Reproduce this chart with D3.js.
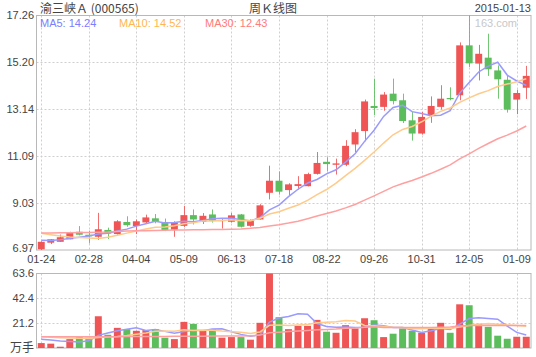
<!DOCTYPE html>
<html><head><meta charset="utf-8">
<script src="https://cdn.jsdelivr.net/npm/d3@7/dist/d3.min.js"></script>
<style>body{margin:0;background:#fff}svg{display:block}</style>
</head><body>
<svg id="c" width="536" height="357"></svg>
<script>
const dates = ["2014-01-24","2014-01-31","2014-02-07","2014-02-14","2014-02-21","2014-02-28","2014-03-07","2014-03-14","2014-03-21","2014-03-28",
"2014-04-04","2014-04-11","2014-04-18","2014-04-25","2014-05-02","2014-05-09","2014-05-16","2014-05-23","2014-05-30","2014-06-06",
"2014-06-13","2014-06-20","2014-06-27","2014-07-04","2014-07-11","2014-07-18","2014-07-25","2014-08-01","2014-08-08","2014-08-15",
"2014-08-22","2014-08-29","2014-09-05","2014-09-12","2014-09-19","2014-09-26","2014-10-03","2014-10-10","2014-10-17","2014-10-24",
"2014-10-31","2014-11-07","2014-11-14","2014-11-21","2014-11-28","2014-12-05","2014-12-12","2014-12-19","2014-12-26","2015-01-02",
"2015-01-09","2015-01-13"];
const open  = [7.00,7.29,7.33,7.44,7.77,7.64,7.55,7.85,7.67,8.20, 8.02,8.18,8.36,8.20,7.86,8.03,8.50,8.20,8.53,8.27, 8.21,8.53,8.03,8.31,9.48,10.01,9.60,9.78,9.77,10.31, 10.84,10.71,10.71,11.60,12.19,13.29,13.25,13.83,13.54,12.66, 12.08,12.88,13.25,13.64,13.76,15.95,15.15,15.41,14.85,14.44, 13.57,14.09];
const high  = [7.35,7.45,7.65,7.77,8.02,7.82,8.60,7.95,8.28,8.45, 8.31,8.52,8.55,8.35,8.23,8.90,8.75,8.59,8.75,8.33, 8.59,8.55,8.31,8.98,10.67,10.42,9.90,10.21,10.36,11.27, 11.04,10.98,11.79,12.27,13.57,14.49,13.90,14.49,13.83,13.03, 13.03,13.71,14.20,14.11,16.08,17.26,15.97,16.46,15.07,14.63, 14.00,15.05];
const low   = [6.97,7.23,7.33,7.44,7.61,7.26,7.41,7.45,7.64,7.99, 7.67,8.12,8.14,7.80,7.55,7.98,8.09,8.11,8.17,7.91, 8.17,7.96,7.99,8.31,9.19,9.40,9.36,9.62,9.76,10.28, 10.42,10.28,10.65,11.27,11.74,12.89,13.08,13.36,12.54,11.77, 12.03,12.55,13.14,13.54,13.54,15.00,14.41,14.61,13.61,13.00, 12.93,13.60];
const close = [7.33,7.44,7.53,7.73,7.64,7.57,7.88,7.69,8.23,8.06, 8.23,8.40,8.21,7.85,8.18,8.50,8.31,8.47,8.25,8.29, 8.49,7.99,8.24,8.93,10.01,9.53,9.85,9.86,10.30,10.79, 10.74,10.77,11.54,12.14,13.49,13.20,13.79,13.51,12.63,12.08, 12.81,13.29,13.61,13.61,15.95,15.16,15.58,14.90,14.46,13.13, 13.86,14.61];
const volume = [4.2,3.7,1.1,7.6,9.3,8.8,27.1,11.3,17.2,16.1, 14.7,15.3,16.1,8.8,7.6,22.3,20.6,14.7,16.1,8.8, 9.3,9.3,7.1,21.5,63.6,26.3,16.1,18.9,18.9,24.0, 13.9,13.0,19.5,16.7,25.4,23.7,9.3,12.2,16.7,14.7, 13.0,17.2,21.5,13.0,37.3,36.5,20.6,18.1,10.5,7.9, 9.6,9.6];
// moving-average values before enough weeks are visible
const ma5Early  = [7.40,7.39,7.42,7.48];
const ma10Early = [7.70,7.64,7.58,7.54,7.52,7.50,7.48,7.53,7.62];
const ma30Early = [7.72,7.72,7.73,7.73,7.74,7.74,7.75,7.76,7.78,7.80,7.81,7.82,7.83,7.84,7.85,7.85,7.86,7.86,7.87,7.87,7.88,7.89,7.92,7.96,8.02,8.08,8.15,8.23,8.34];
const vma5Early  = [7.5,6.8,6.0,5.5];
const vma10Early = [9.5,9.2,8.8,8.5,8.3,8.2,9.0,9.3,9.8];
const vma30Early = [9.5,9.5,9.5,9.6,9.6,9.6,9.7,9.7,9.7,9.8,9.8,9.8,9.9,9.9,10.0,10.0,10.1,10.1,10.2,10.2,10.3,10.3,10.4,11.0,13.0,13.5,14.0,14.5,15.0];
const priceTicks = [6.97,9.03,11.09,13.14,15.20,17.26];
const volTicks = [21.2,42.4,63.6];
const xTickDates = ["2014-01-24","2014-02-28","2014-04-04","2014-05-09","2014-06-13","2014-07-18","2014-08-22","2014-09-26","2014-10-31","2014-12-05","2015-01-09"];
const maNames = ["MA5","MA10","MA30"];
const maLegendValues = ["14.24","14.52","12.43"];
const stockName = "渝三峡Ａ (000565)";
const chartTitle = "周Ｋ线图";
const lastDate = "2015-01-13";
const volUnit = "万手";

const L=36.5, R=531, T=15.5, B=250, VT=273.5, VB=348;
const svg = d3.select("#c");
const x = d3.scaleBand().domain(dates).range([L, R]).paddingInner(0.27).paddingOuter(0.135);
const cx = d => x(d) + x.bandwidth()/2;
const y = d3.scaleLinear().domain([6.97,17.26]).range([B, T]);
const yv = d3.scaleLinear().domain([0,63.6]).range([VB, VT]);

function ma(arr, n, early){ return arr.map((_,i)=> i < n-1 ? early[i] : d3.mean(arr.slice(i-n+1,i+1))); }
const maColors = ["#9a9aff","#ffca8a","#ffa0a0"];
const maText = ["#7d7dff","#ffb650","#ff7a7a"];
const up = "#ef5555", dn = "#5bbd5b";
const font = "'Liberation Sans', Arial, sans-serif";
const cjk = "'Noto Sans CJK SC', sans-serif";

// grids
const g = svg.append("g");
function hgrid(vals, sc){
  g.selectAll(null).data(vals).enter().append("line")
   .attr("x1",L).attr("x2",R).attr("y1",d=>Math.round(sc(d))+0.5).attr("y2",d=>Math.round(sc(d))+0.5)
   .attr("stroke","#cfcfcf").attr("stroke-dasharray","2,2");
}
hgrid(priceTicks.slice(1,-1), y);
hgrid(volTicks.slice(0,-1), yv);
[[T,B],[VT,VB]].forEach(([t,b])=>{
  g.selectAll(null).data(xTickDates).enter().append("line")
   .attr("x1",d=>Math.round(cx(d))+0.5).attr("x2",d=>Math.round(cx(d))+0.5).attr("y1",t).attr("y2",b)
   .attr("stroke","#cfcfcf").attr("stroke-dasharray","2,2");
});

// borders
svg.append("rect").attr("x",L).attr("y",T).attr("width",R-L).attr("height",B-T).attr("fill","none").attr("stroke","#b8b8b8");
svg.append("rect").attr("x",L).attr("y",VT).attr("width",R-L).attr("height",VB-VT).attr("fill","none").attr("stroke","#b8b8b8");

// candles
const idx = d3.range(dates.length);
const cg = svg.append("g");
cg.selectAll("line.w").data(idx).enter().append("line")
  .attr("x1",i=>Math.round(cx(dates[i]))+0.5).attr("x2",i=>Math.round(cx(dates[i]))+0.5)
  .attr("y1",i=>y(high[i])).attr("y2",i=>y(low[i]))
  .attr("stroke",i=>close[i]>=open[i]?up:dn).attr("stroke-width",1).attr("opacity",0.85);
cg.selectAll("rect").data(idx).enter().append("rect")
  .attr("x",i=>x(dates[i])).attr("width",x.bandwidth())
  .attr("y",i=>y(Math.max(open[i],close[i])))
  .attr("height",i=>Math.max(1.2, Math.abs(y(open[i])-y(close[i]))))
  .attr("fill",i=>close[i]>=open[i]?up:dn);

// MA lines price
const line = d3.line().x((d,i)=>cx(dates[i])).y(d=>y(d)).curve(d3.curveLinear);
[ma(close,5,ma5Early), ma(close,10,ma10Early), ma(close,30,ma30Early)].forEach((s,k)=>{
  svg.append("path").attr("d",line(s)).attr("fill","none").attr("stroke",maColors[k]).attr("stroke-width",1.5);
});

// volume bars
svg.append("g").selectAll("rect").data(idx).enter().append("rect")
  .attr("x",i=>x(dates[i])).attr("width",x.bandwidth())
  .attr("y",i=>yv(volume[i])).attr("height",i=>VB-yv(volume[i]))
  .attr("fill",i=>close[i]>=open[i]?up:dn);
const vline = d3.line().x((d,i)=>cx(dates[i])).y(d=>yv(d));
[ma(volume,5,vma5Early), ma(volume,10,vma10Early), ma(volume,30,vma30Early)].forEach((s,k)=>{
  svg.append("path").attr("d",vline(s)).attr("fill","none").attr("stroke",maColors[k]).attr("stroke-width",1.5);
});

// axis labels
const tx = svg.append("g").attr("font-family",font).attr("font-size",11).attr("fill","#444");
tx.selectAll("text.py").data(priceTicks).enter().append("text")
  .attr("x",34).attr("y",d=>Math.min(y(d),248)).attr("dy","0.35em").attr("text-anchor","end").text(d=>d.toFixed(2));
tx.selectAll("text.vy").data(volTicks).enter().append("text")
  .attr("x",34).attr("y",d=>yv(d)).attr("dy","0.35em").attr("text-anchor","end").text(d=>d.toFixed(1));
svg.append("text").attr("x",34).attr("y",yv(0)).attr("dy","0.35em").attr("text-anchor","end")
  .attr("font-family",cjk).attr("font-size",12).attr("fill","#444").text(volUnit);
tx.selectAll("text.xl").data(xTickDates).enter().append("text")
  .attr("x",d=>cx(d)).attr("y",259).attr("dy","0.35em").attr("text-anchor","middle").text(d=>d.slice(5));

// header
svg.append("text").attr("x",40).attr("y",8.5).attr("dy","0.35em").attr("font-family",cjk).attr("font-size",12).attr("fill","#444").text(stockName);
svg.append("text").attr("x",273).attr("y",8.5).attr("dy","0.35em").attr("text-anchor","middle").attr("font-family",cjk).attr("font-size",12).attr("fill","#444").text(chartTitle);
svg.append("text").attr("x",531).attr("y",8).attr("dy","0.35em").attr("text-anchor","end").attr("font-family",font).attr("font-size",11).attr("fill","#444").text(lastDate);

// legend
const legX = [40,119,205];
maNames.forEach((n,k)=>{
  svg.append("text").attr("x",legX[k]).attr("y",23).attr("dy","0.35em").attr("font-family",font).attr("font-size",11)
    .attr("fill",maText[k]).text(n+": "+maLegendValues[k]);
});
svg.append("text").attr("x",517).attr("y",23).attr("dy","0.35em").attr("text-anchor","end").attr("font-family",font).attr("font-size",11).attr("fill","#c8c8c8").text("163.com");
</script>
</body></html>
